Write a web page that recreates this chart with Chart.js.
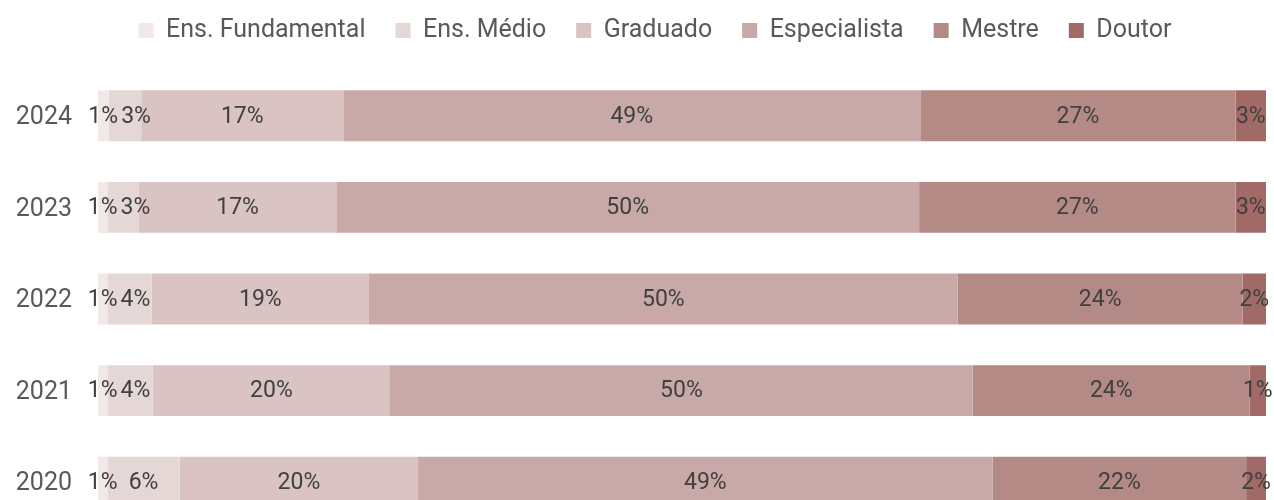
<!DOCTYPE html>
<html>
<head>
<meta charset="utf-8">
<script src="https://cdn.jsdelivr.net/npm/chart.js@4/dist/chart.umd.min.js"></script>
<style>
  html, body { margin: 0; padding: 0; background: #fff; overflow: hidden; }
  #chart_escolaridade { position: absolute; left: 0; top: -12px; }
</style>
</head>
<body>
<canvas id="chart_escolaridade" width="1274" height="540"></canvas>
<script>
var anos = ['2024', '2023', '2022', '2021', '2020'];
var niveis = ['Ens. Fundamental', 'Ens. Médio', 'Graduado', 'Especialista', 'Mestre', 'Doutor'];
var cores = ['#f2e8e8', '#e6d7d7', '#d9c4c3', '#c8a9a7', '#b48a87', '#a26a67'];

// share of each level per year (%), same order as anos
var fundamental = [0.9, 0.8, 0.8, 0.8, 0.8];
var medio = [2.8, 2.7, 3.8, 3.9, 6.2];
var graduado = [17.3, 16.9, 18.6, 20.3, 20.4];
var especialista = [49.4, 49.9, 50.4, 49.9, 49.2];
var mestre = [27.0, 27.1, 24.4, 23.7, 21.7];
var doutor = [2.6, 2.6, 2.0, 1.4, 1.7];

var series = [fundamental, medio, graduado, especialista, mestre, doutor];
var fonte = 'Roboto, "Noto Sans", sans-serif';

// fixed legend band above the bars, nudged a bit to the right
var legendaFixa = {
  id: 'legendaFixa',
  beforeInit: function(chart) {
    var fit = chart.legend.fit;
    chart.legend.fit = function() {
      fit.bind(chart.legend)();
      this.height = 82;
    };
  },
  afterLayout: function(chart) {
    chart.legend.left += 22;
    chart.legend.right += 22;
  }
};

// percentage labels in the middle of each segment, pushed right when they collide
var rotulos = {
  id: 'rotulos',
  afterDatasetsDraw: function(chart) {
    var ctx = chart.ctx;
    ctx.save();
    ctx.font = '23px ' + fonte;
    ctx.fillStyle = '#404040';
    ctx.textBaseline = 'middle';
    ctx.textAlign = 'left';
    anos.forEach(function(ano, i) {
      var ultimo = -Infinity;
      chart.data.datasets.forEach(function(ds, d) {
        var bar = chart.getDatasetMeta(d).data[i];
        var texto = Math.round(ds.data[i]) + '%';
        var w = ctx.measureText(texto).width;
        var x = (bar.x + bar.base) / 2 - w / 2;
        if (x < ultimo + 3) { x = ultimo + 3; }
        ctx.fillText(texto, x, bar.y + 1);
        ultimo = x + w;
      });
    });
    ctx.restore();
  }
};

var ctx = document.getElementById('chart_escolaridade').getContext('2d');
new Chart(ctx, {
  type: 'bar',
  data: {
    labels: anos,
    datasets: niveis.map(function(nome, i) {
      return {
        label: nome,
        data: series[i],
        backgroundColor: cores[i],
        borderWidth: 0,
        barPercentage: 0.556,
        categoryPercentage: 1
      };
    })
  },
  options: {
    indexAxis: 'y',
    responsive: false,
    animation: false,
    layout: { padding: { left: 0, right: 8, top: 0, bottom: 0 } },
    plugins: {
      tooltip: { enabled: false },
      legend: {
        position: 'top',
        labels: {
          boxWidth: 15,
          boxHeight: 15,
          padding: 30,
          color: '#595959',
          font: { family: fonte, size: 25 }
        }
      }
    },
    scales: {
      x: {
        stacked: true,
        min: 0,
        max: 100,
        display: false
      },
      y: {
        stacked: true,
        grid: { display: false, drawTicks: false },
        border: { display: false },
        afterFit: function(axis) {
          // fixed label column; tick padding should not eat vertical space
          axis.width = 98;
          axis.paddingTop = 0;
          axis.paddingBottom = 0;
        },
        ticks: {
          padding: 26,
          labelOffset: 2,
          color: '#595959',
          font: { family: fonte, size: 25 }
        }
      }
    }
  },
  plugins: [legendaFixa, rotulos]
});
</script>
</body>
</html>
